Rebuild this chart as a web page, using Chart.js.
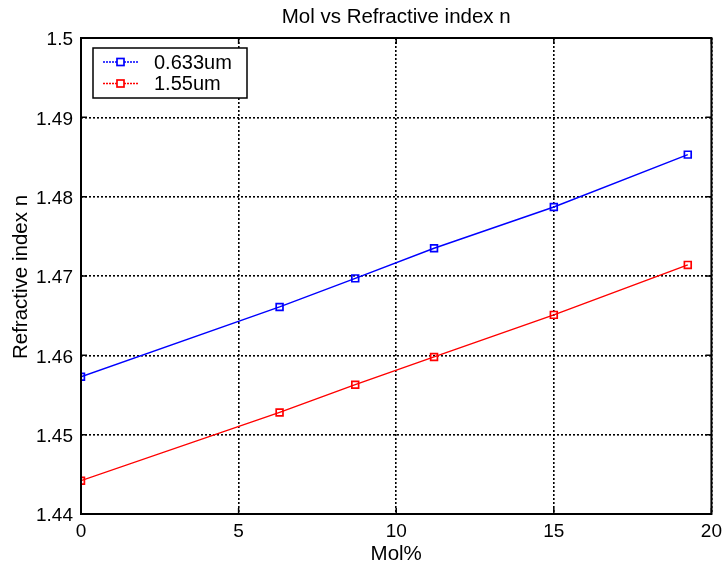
<!DOCTYPE html>
<html>
<head>
<meta charset="utf-8">
<script src="https://cdn.jsdelivr.net/npm/chart.js@4/dist/chart.umd.min.js"></script>
<style>
  html, body { margin: 0; padding: 0; background: #fff; }
  #wrap { width: 728px; height: 573px; position: relative; }
</style>
</head>
<body>
<div id="wrap"><canvas id="c" width="728" height="573"></canvas></div>
<script>
const chartTitle = "Mol vs Refractive index n";
const xTitle = "Mol%";
const yTitle = "Refractive index n";
const molPercent = [0, 6.3, 8.7, 11.2, 15, 19.25];
const seriesLabels = ["0.633um", "1.55um"];
const n633 = [1.4573, 1.4661, 1.4697, 1.4735, 1.4787, 1.4853];
const n1550 = [1.4442, 1.4528, 1.4563, 1.4598, 1.4651, 1.4714];
const seriesColors = ["#0000ff", "#ff0000"];
const xTicks = [0, 5, 10, 15, 20];
const yTicks = [1.44, 1.45, 1.46, 1.47, 1.48, 1.49, 1.5];

const FONT = "'Liberation Sans', Arial, Helvetica, sans-serif";

function pts(xs, ys) { return xs.map((x, i) => ({ x: x, y: ys[i] })); }

const frameAndText = {
  id: 'frameAndText',
  afterDatasetsDraw(chart) {
    const ctx = chart.ctx;
    const a = chart.chartArea;
    const xs = chart.scales.x, ys = chart.scales.y;
    ctx.save();
    // frame
    ctx.strokeStyle = '#000';
    ctx.lineWidth = 2;
    ctx.setLineDash([]);
    ctx.strokeRect(a.left, a.top, a.right - a.left, a.bottom - a.top);
    // inward ticks
    ctx.lineWidth = 1.5;
    const tl = 6;
    yTicks.forEach(v => {
      const y = ys.getPixelForValue(v);
      ctx.beginPath();
      ctx.moveTo(a.left, y); ctx.lineTo(a.left + tl, y);
      ctx.moveTo(a.right, y); ctx.lineTo(a.right - tl, y);
      ctx.stroke();
    });
    xTicks.forEach(v => {
      const x = xs.getPixelForValue(v);
      ctx.beginPath();
      ctx.moveTo(x, a.bottom); ctx.lineTo(x, a.bottom - tl);
      ctx.moveTo(x, a.top); ctx.lineTo(x, a.top + tl);
      ctx.stroke();
    });
    // legend box
    const lx = 93, ly = 48, lw = 154, lh = 50;
    ctx.fillStyle = '#fff';
    ctx.fillRect(lx, ly, lw, lh);
    ctx.strokeStyle = '#000';
    ctx.lineWidth = 1.5;
    ctx.strokeRect(lx, ly, lw, lh);
    const rows = [62, 83.5];
    seriesLabels.forEach((lab, i) => {
      const y = rows[i];
      ctx.strokeStyle = seriesColors[i];
      ctx.lineWidth = 1.3;
      ctx.setLineDash([2, 1]);
      ctx.beginPath(); ctx.moveTo(103, y); ctx.lineTo(138, y); ctx.stroke();
      ctx.setLineDash([]);
      ctx.lineWidth = 1.7;
      ctx.fillStyle = '#fff';
      ctx.fillRect(117, y - 3.5, 7, 7);
      ctx.strokeRect(117, y - 3.5, 7, 7);
      ctx.fillStyle = '#000';
      ctx.font = "20px " + FONT;
      ctx.textAlign = 'left';
      ctx.textBaseline = 'middle';
      ctx.fillText(lab, 154, y + 1);
    });
    // titles
    ctx.fillStyle = '#000';
    ctx.font = "20.5px " + FONT;
    ctx.textAlign = 'center';
    ctx.textBaseline = 'middle';
    ctx.fillText(chartTitle, (a.left + a.right) / 2, 17);
    ctx.fillText(xTitle, (a.left + a.right) / 2, 554);
    ctx.save();
    ctx.translate(21, (a.top + a.bottom) / 2 + 1);
    ctx.rotate(-Math.PI / 2);
    ctx.fillText(yTitle, 0, 0);
    ctx.restore();
    ctx.restore();
  }
};

new Chart(document.getElementById('c'), {
  type: 'scatter',
  data: {
    datasets: [
      {
        label: seriesLabels[0],
        data: pts(molPercent, n633),
        showLine: true,
        borderColor: seriesColors[0],
        backgroundColor: 'rgba(255,255,255,0)',
        borderWidth: 1.4,
        pointStyle: 'rect',
        pointRadius: 4.8,
        pointBorderWidth: 1.7,
        pointBorderColor: seriesColors[0],
        pointBackgroundColor: 'rgba(255,255,255,0)'
      },
      {
        label: seriesLabels[1],
        data: pts(molPercent, n1550),
        showLine: true,
        borderColor: seriesColors[1],
        backgroundColor: 'rgba(255,255,255,0)',
        borderWidth: 1.4,
        pointStyle: 'rect',
        pointRadius: 4.8,
        pointBorderWidth: 1.7,
        pointBorderColor: seriesColors[1],
        pointBackgroundColor: 'rgba(255,255,255,0)'
      }
    ]
  },
  options: {
    responsive: false,
    animation: false,
    devicePixelRatio: 1,
    layout: { padding: { top: 38, right: 14, left: 0, bottom: 0 } },
    plugins: {
      legend: { display: false },
      title: { display: false },
      tooltip: { enabled: false }
    },
    scales: {
      x: {
        type: 'linear',
        min: 0, max: 20,
        afterFit(s) { s.height = 59; },
        afterBuildTicks(s) { s.ticks = xTicks.map(v => ({ value: v })); },
        grid: { color: '#000', lineWidth: 1.6, drawTicks: false },
        border: { display: false, dash: [2, 2] },
        ticks: {
          padding: 6,
          color: '#000',
          font: { family: FONT, size: 19 },
          maxRotation: 0,
          callback: v => String(v)
        }
      },
      y: {
        type: 'linear',
        min: 1.44, max: 1.5,
        afterFit(s) { s.width = 81; },
        afterBuildTicks(s) { s.ticks = yTicks.map(v => ({ value: v })); },
        grid: { color: '#000', lineWidth: 1.6, drawTicks: false },
        border: { display: false, dash: [2, 2] },
        ticks: {
          padding: 8,
          labelOffset: 2,
          color: '#000',
          font: { family: FONT, size: 19 },
          callback: v => String(+(+v).toFixed(2))
        }
      }
    }
  },
  plugins: [frameAndText]
});
</script>
</body>
</html>
